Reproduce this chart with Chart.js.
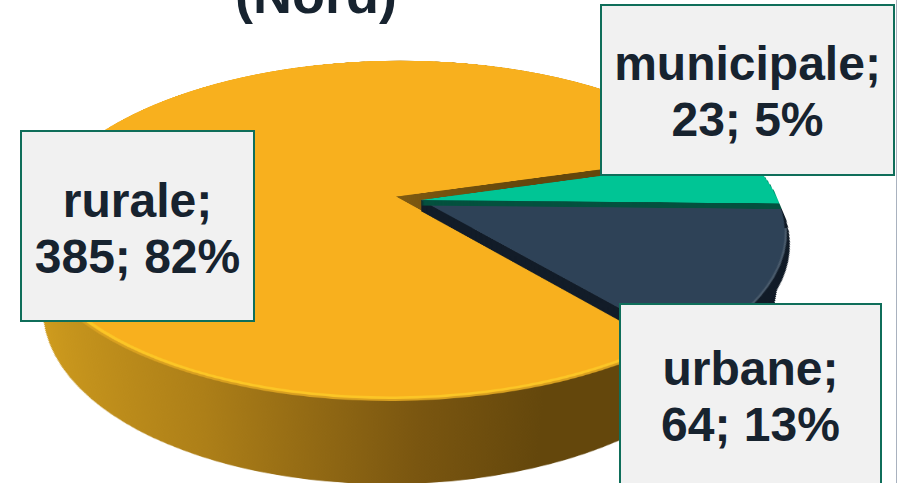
<!DOCTYPE html>
<html>
<head>
<meta charset="utf-8">
<title>(Nord)</title>
<script src="https://cdn.jsdelivr.net/npm/chart.js@4"></script>
<style>
  html, body { margin: 0; background: #fff; }
  #page { position: relative; width: 897px; height: 483px; overflow: hidden; font-family: "Liberation Sans", Arial, sans-serif; font-weight: bold; color: #17232f; }
  #pie { position: absolute; left: -229px; top: -450px; transform-origin: 650px 650px; transform: perspective(1662px) rotateX(62.8deg); }
  #title { position: absolute; left: 235px; top: -36px; font-size: 54px; line-height: 60px; white-space: nowrap; }
  .box { position: absolute; box-sizing: border-box; background: #f1f1f1; border: 2px solid #0f6e5a; text-align: center; font-size: 48px; line-height: 56px; }
  #edge { position: absolute; left: 896px; top: 0; width: 1px; height: 483px; background: #a9b2bf; }
</style>
</head>
<body>
<div id="page">
  <canvas id="pie" width="1300" height="1300"></canvas>
  <div id="title">(Nord)</div>
  <div id="edge"></div>
</div>
<script>
const categories = ['rurale', 'municipale', 'urbane'];
const values = [385, 23, 64];
const percents = [82, 5, 13];

const faceColors = ['#f8b01e', '#00c595', '#2e4257'];
const sideColors = [null, '#05513f', '#121c28'];

// how far each slice is pulled out of the centre
const explode = [26, 0, 0];

// left, top, width, height, padding top of the label boxes
const boxes = [
  [20, 130, 235, 192, 41],
  [600, 4, 295, 172, 30],
  [619, 303, 263, 200, 36]
];

const ctx = document.getElementById('pie').getContext('2d');

function drawArc(arc, c, fill) {
  const saved = arc.options;
  arc.options = Object.assign({}, saved, { backgroundColor: fill, borderWidth: 0, borderColor: fill });
  arc.draw(c);
  arc.options = saved;
}

// draw one copy of a slice, moved down and scaled around the pie centre
function layer(chart, arc, i, shift, k, fill) {
  const c = chart.ctx;
  const mid = (arc.startAngle + arc.endAngle) / 2;
  c.save();
  c.translate(arc.x + Math.cos(mid) * explode[i], arc.y + Math.sin(mid) * explode[i] + shift);
  c.scale(k, k);
  c.translate(-arc.x, -arc.y);
  drawArc(arc, c, fill);
  c.restore();
}

function wall(chart, arc, i, shift, k, fill) {
  const steps = Math.ceil(shift * 1.5);
  for (let n = steps; n >= 0; n--) {
    const t = n / steps;
    layer(chart, arc, i, shift * t, 1 + (k - 1) * t, fill);
  }
}

// lit edge along the front of a slice only
function rim(chart, arc, i, from, k, fill) {
  const c = chart.ctx;
  c.save();
  c.beginPath();
  c.rect(0, arc.y + from, chart.width, chart.height);
  c.clip();
  layer(chart, arc, i, 0, k, fill);
  c.restore();
}

const pie3d = {
  id: 'pie3d',
  beforeDatasetsDraw(chart) {
    const arcs = chart.getDatasetMeta(0).data;
    const cx = arcs[0].x;

    const side = chart.ctx.createLinearGradient(cx - 340, 0, cx + 180, 0);
    side.addColorStop(0, '#cf9c1e');
    side.addColorStop(0.35, '#ad7f18');
    side.addColorStop(0.7, '#7a5610');
    side.addColorStop(0.9, '#64470c');
    side.addColorStop(1, '#64470c');

    wall(chart, arcs[2], 2, 156, 0.885, sideColors[2]);

    wall(chart, arcs[0], 0, 158, 0.885, side);
    rim(chart, arcs[0], 0, 60, 1.018, '#d9a020');
    rim(chart, arcs[0], 0, 60, 1.01, '#fcc626');
    layer(chart, arcs[0], 0, 0, 1, faceColors[0]);

    wall(chart, arcs[2], 2, 24, 1, sideColors[2]);
    rim(chart, arcs[2], 2, 60, 1.006, '#4a5b6c');
    layer(chart, arcs[2], 2, 0, 1, faceColors[2]);

    wall(chart, arcs[1], 1, 12, 1, sideColors[1]);
    layer(chart, arcs[1], 1, 0, 1, faceColors[1]);
    return false;
  }
};

new Chart(ctx, {
  type: 'pie',
  data: {
    labels: categories,
    datasets: [{
      data: values,
      backgroundColor: faceColors,
      borderWidth: 0,
      radius: 357
    }]
  },
  options: {
    responsive: false,
    animation: false,
    devicePixelRatio: 1,
    rotation: 140,
    plugins: { legend: { display: false }, tooltip: { enabled: false } }
  },
  plugins: [pie3d]
});

categories.forEach((name, i) => {
  const b = boxes[i];
  const div = document.createElement('div');
  div.className = 'box';
  div.style.left = b[0] + 'px';
  div.style.top = b[1] + 'px';
  div.style.width = b[2] + 'px';
  div.style.height = b[3] + 'px';
  div.style.paddingTop = b[4] + 'px';
  div.innerHTML = name + ';<br>' + values[i] + '; ' + percents[i] + '%';
  document.getElementById('page').appendChild(div);
});
</script>
</body>
</html>
